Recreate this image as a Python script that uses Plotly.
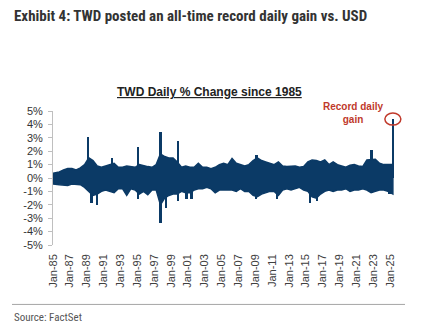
import plotly.graph_objects as go
import pandas as pd

# Half-year periods from 1985H1 to 2025H1
years = list(range(1985, 2026))

# Upper envelope of daily % change per half-year
upper = [
    0.35, 0.45, 0.6, 0.7, 0.7, 0.6, 0.75, 1.0, 1.5, 1.3,
    0.9, 0.8, 0.9, 1.0, 1.1, 0.8, 0.8, 0.9, 0.85, 0.8,
    1.0, 0.9, 0.85, 0.8, 1.0, 1.8, 1.6, 1.5, 1.5, 1.2,
    0.8, 0.9, 0.8, 0.8, 1.1, 0.8, 0.8, 0.7, 0.8, 1.0,
    1.1, 1.0, 1.45, 1.1, 1.0, 0.9, 1.0, 1.3, 1.5, 1.3,
    1.2, 1.1, 1.0, 1.2, 0.9, 0.85, 0.85, 0.9, 0.8, 0.85,
    1.2, 1.35, 1.3, 1.2, 1.35, 1.0, 1.2, 1.0, 0.9, 0.8,
    0.95, 1.0, 0.9, 0.85, 1.35, 1.4, 1.4, 1.1, 1.0, 1.0,
    1.0,
]
# Lower envelope per half-year
lower = [
    -0.45, -0.5, -0.5, -0.55, -0.45, -0.5, -0.5, -0.7, -1.0, -1.3,
    -1.2, -1.0, -0.9, -1.0, -1.1, -0.8, -0.8, -1.3, -0.8, -0.9,
    -1.2, -1.0, -1.25, -0.9, -0.9, -2.0, -1.5, -1.3, -1.2, -1.2,
    -1.0, -1.1, -1.1, -0.9, -0.8, -0.8, -0.7, -0.8, -1.1, -0.9,
    -0.9, -0.9, -0.9, -1.0, -0.8, -1.0, -1.0, -1.3, -1.4, -1.2,
    -1.1, -1.0, -1.0, -1.3, -0.9, -0.8, -0.9, -0.8, -0.7, -0.9,
    -1.0, -1.4, -1.5, -1.2, -1.0, -0.9, -1.0, -0.9, -0.9, -0.8,
    -1.0, -0.9, -0.9, -0.8, -0.9, -1.1, -1.0, -0.9, -0.9, -1.0,
    -1.2,
]

# Single-day spikes
spike_dates = ["1989-03-01", "1992-01-01", "1995-02-01", "1997-10-15", "1999-11-01",
               "2009-03-01", "2022-10-15", "2025-05-01",
               "1989-08-01", "1990-04-01", "1995-02-01", "1997-10-15", "1998-06-01",
               "1999-11-01", "2000-11-01", "2001-06-01", "2009-02-01", "2011-08-01",
               "2015-07-01", "2016-05-01", "2024-12-01"]
spike_values = [3.05, 1.5, 2.3, 3.4, 2.75, 1.7, 2.1, 4.4,
                -1.85, -2.05, -1.6, -3.35, -2.25, -1.7, -1.6, -1.6, -1.6, -1.6,
                -1.85, -1.7, -1.2]

y_ticks = [5, 4, 3, 2, 1, 0, -1, -2, -3, -4, -5]

navy = "#0b3a66"
red = "#c0392b"

# half-year midpoints
mids = []
for y in years:
    for m in ("04", "10"):
        if len(mids) < len(upper):
            mids.append(f"{y}-{m}-01")
mids[0] = "1985-01-01"
mids[-1] = "2025-05-01"

poly_x = mids + mids[::-1]
poly_y = upper + lower[::-1]

fig = go.Figure()
fig.add_trace(go.Scatter(x=poly_x, y=poly_y, mode="lines", fill="toself",
                         fillcolor=navy, line=dict(color=navy, width=1.5),
                         hoverinfo="skip"))
fig.add_trace(go.Bar(x=spike_dates, y=spike_values, base=0,
                     width=[110 * 86400000] * len(spike_dates),
                     marker=dict(color=navy, line=dict(width=0)), hoverinfo="skip"))

W, H = 438, 330
ml, mr, mt, mb = 53, 36, 110.7, 84.7
pw = W - ml - mr
ph = H - mt - mb

def px(x):
    return (x - ml) / pw

def py(y):
    return (H - mb - y) / ph

fig.update_layout(
    width=W, height=H,
    margin=dict(l=ml, r=mr, t=mt, b=mb, pad=0),
    paper_bgcolor="white", plot_bgcolor="white",
    showlegend=False, barmode="overlay", bargap=0,
    font=dict(family="Liberation Sans, Arial", color="#333333", size=11),
    xaxis=dict(type="date", range=["1985-01-01", "2026-06-01"],
               tickformat="%b-%y", dtick="M24", tick0="1985-01-01",
               tickangle=-90, showgrid=False, zeroline=False, showline=False,
               ticks="", tickfont=dict(size=11, color="#404040"),
               ticklabelstandoff=6),
    yaxis=dict(range=[-5, 5], tickvals=y_ticks, ticktext=[f"{v}%" for v in y_ticks],
               showgrid=False, zeroline=False, showline=True, linecolor="#bfbfbf",
               linewidth=1, ticks="outside", ticklen=4, tickcolor="#bfbfbf",
               tickfont=dict(size=11, color="#333333"), ticklabelstandoff=3),
)

fig.add_annotation(text="<b>Exhibit 4: TWD posted an all-time record daily gain vs. USD</b>",
                   xref="paper", yref="paper", x=px(12), y=py(15), xanchor="left", yanchor="middle",
                   showarrow=False,
                   font=dict(family="Liberation Sans Narrow, Arial Narrow, Roboto Condensed, Liberation Sans",
                             size=15, color="#333333"))
fig.add_annotation(text="<b><u>TWD Daily % Change since 1985</u></b>",
                   xref="paper", yref="paper", x=px(209.5), y=py(92), xanchor="center", yanchor="middle",
                   showarrow=False, font=dict(size=12, color="#222222"))
fig.add_annotation(text="<b>Record daily<br>gain</b>",
                   xref="paper", yref="paper", x=px(353), y=py(113), xanchor="center", yanchor="middle",
                   showarrow=False, font=dict(size=10, color=red))
fig.add_annotation(text="Source: FactSet",
                   xref="paper", yref="paper", x=px(12), y=py(318), xanchor="left", yanchor="middle",
                   showarrow=False,
                   font=dict(family="Liberation Sans Narrow, Arial Narrow, Roboto Condensed, Liberation Sans",
                             size=11, color="#555555"))

fig.add_shape(type="circle", xref="x", yref="y", xsizemode="pixel", ysizemode="pixel",
              xanchor=spike_dates[7], yanchor=spike_values[7],
              x0=-8, x1=8, y0=-6, y1=6, line=dict(color=red, width=1.5))
fig.add_shape(type="line", xref="paper", yref="paper", x0=px(12), x1=px(405),
              y0=py(305), y1=py(305), line=dict(color="#a6a6a6", width=1))

fig.write_html("out.html")
